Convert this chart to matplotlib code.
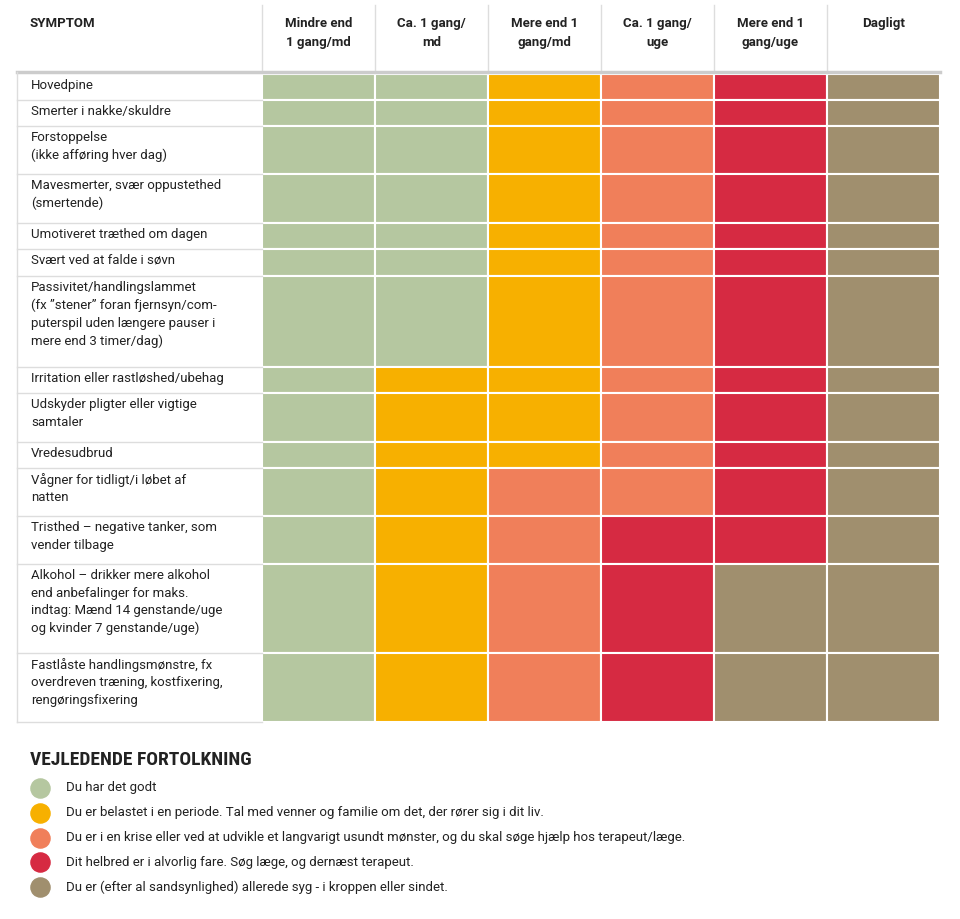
import matplotlib.pyplot as plt
from matplotlib.patches import Rectangle

colors = ['#b5c7a0', '#f7b000', '#f07f5a', '#d62a42', '#a08f6e']

headers = ['Mindre end\n1 gang/md', 'Ca. 1 gang/\nmd', 'Mere end 1\ngang/md',
           'Ca. 1 gang/\nuge', 'Mere end 1\ngang/uge', 'Dagligt']

symptoms = ['Hovedpine', 'Smerter i nakke/skuldre',
            'Forstoppelse\n(ikke afføring hver dag)',
            'Mavesmerter, svær oppustethed\n(smertende)',
            'Umotiveret træthed om dagen', 'Svært ved at falde i søvn',
            'Passivitet/handlingslammet\n(fx \u201dstener\u201d foran fjernsyn/com-\nputerspil uden længere pauser i\nmere end 3 timer/dag)',
            'Irritation eller rastløshed/ubehag',
            'Udskyder pligter eller vigtige\nsamtaler', 'Vredesudbrud',
            'Vågner for tidligt/i løbet af\nnatten',
            'Tristhed \u2013 negative tanker, som\nvender tilbage',
            'Alkohol \u2013 drikker mere alkohol\nend anbefalinger for maks.\nindtag: Mænd 14 genstande/uge\nog kvinder 7 genstande/uge)',
            'Fastlåste handlingsmønstre, fx\noverdreven træning, kostfixering,\nrengøringsfixering']

levels = [
    [0, 0, 1, 2, 3, 4], [0, 0, 1, 2, 3, 4], [0, 0, 1, 2, 3, 4], [0, 0, 1, 2, 3, 4],
    [0, 0, 1, 2, 3, 4], [0, 0, 1, 2, 3, 4], [0, 0, 1, 2, 3, 4],
    [0, 1, 1, 2, 3, 4], [0, 1, 1, 2, 3, 4], [0, 1, 1, 2, 3, 4],
    [0, 1, 2, 2, 3, 4], [0, 1, 2, 3, 3, 4], [0, 1, 2, 3, 4, 4], [0, 1, 2, 3, 4, 4],
]

legend_texts = ['Du har det godt',
                'Du er belastet i en periode. Tal med venner og familie om det, der rører sig i dit liv.',
                'Du er i en krise eller ved at udvikle et langvarigt usundt mønster, og du skal søge hjælp hos terapeut/læge.',
                'Dit helbred er i alvorlig fare. Søg læge, og dernæst terapeut.',
                'Du er (efter al sandsynlighed) allerede syg - i kroppen eller sindet.']

W, H = 960, 919
fig = plt.figure(figsize=(W / 100, H / 100), dpi=100)
ax = fig.add_axes([0, 0, 1, 1])
ax.set_xlim(0, W)
ax.set_ylim(H, 0)
ax.axis('off')

plt.rcParams['font.family'] = ['Roboto', 'DejaVu Sans']
txt = '#222222'

x0, xl, cw = 17, 262, 113
top = 74
line_h = 24.5
heights = [s.count('\n') * 21 + 26 for s in symptoms]
heights = [26, 26, 48, 49, 26, 27, 91, 26, 49, 26, 48, 48, 89, 69]

# header
ax.text(30, 17, 'SYMPTOM', fontsize=9.5, fontweight='bold', color=txt, va='top')
for j, h in enumerate(headers):
    cx = xl + j * cw + cw / 2
    ax.text(cx, 17, h, fontsize=9.5, fontweight='bold', color=txt, va='top', ha='center',
            linespacing=1.6)
    ax.plot([xl + j * cw, xl + j * cw], [5, 70], color='#dddddd', lw=1)
ax.plot([x0, 940], [72, 72], color='#cccccc', lw=2.5)

y = top
for i, s in enumerate(symptoms):
    h = heights[i]
    ax.text(31, y + 5, s, fontsize=9.5, color=txt, va='top', linespacing=1.45)
    ax.plot([x0, xl], [y + h, y + h], color='#dddddd', lw=1)
    for j, lv in enumerate(levels[i]):
        ax.add_patch(Rectangle((xl + j * cw, y), cw, h, facecolor=colors[lv],
                               edgecolor='white', lw=1.5))
    y += h
ax.plot([x0, x0], [72, y], color='#dddddd', lw=1)

ax.text(30, 760, 'VEJLEDENDE FORTOLKNING', fontsize=14, fontweight='bold', color=txt,
        va='center', family=['Roboto Condensed', 'Liberation Sans Narrow', 'DejaVu Sans'],
        fontstretch='condensed')
for k, t in enumerate(legend_texts):
    ly = 788 + k * 24.8
    ax.scatter([40], [ly], s=190, color=colors[k], zorder=3)
    ax.text(66, ly, t, fontsize=9.5, color=txt, va='center')

fig.savefig('out.png', dpi=100)
